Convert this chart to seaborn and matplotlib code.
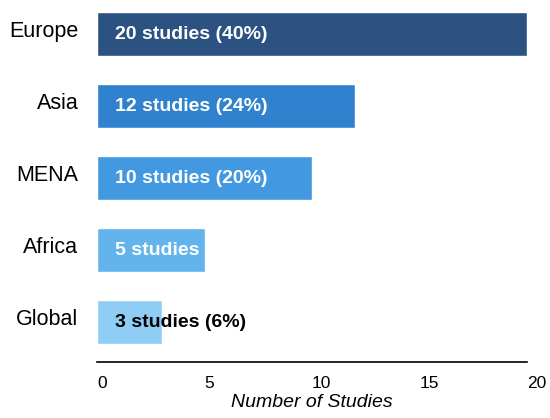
import matplotlib
matplotlib.use("Agg")
import matplotlib.pyplot as plt
import matplotlib.transforms as mtransforms
import seaborn as sns
import pandas as pd

regions = ["Europe", "Asia", "MENA", "Africa", "Global"]
studies = [20, 12, 10, 5, 3]
bar_labels = ["20 studies (40%)", "12 studies (24%)", "10 studies (20%)", "5 studies", "3 studies (6%)"]
colors = ["#2c5282", "#3182ce", "#4299e1", "#63b3ed", "#90cdf4"]
label_colors = ["white", "white", "white", "white", "black"]
xticks = [0, 5, 10, 15, 20]

sns.set_theme(style="white")
plt.rcParams["font.family"] = ["Liberation Sans", "DejaVu Sans"]

df = pd.DataFrame({"region": regions, "studies": studies})

fig = plt.figure(figsize=(5.5, 4.18), dpi=100)
ax = fig.add_axes([97 / 550, (418 - 362) / 418, (527 - 97) / 550, (362 - 5) / 418])

sns.barplot(data=df, y="region", x="studies", hue="region", palette=colors,
            order=regions, hue_order=regions, legend=False, width=0.61,
            orient="h", ax=ax, saturation=1)

for i, (lab, c) in enumerate(zip(bar_labels, label_colors)):
    ax.annotate(lab, xy=(0, i), xytext=(13, -0.5), textcoords="offset points",
                ha="left", va="center", color=c, fontsize=14, fontweight="bold")

ax.set_xlim(0, 20)
ax.set_ylim(4.555, -0.405)
ax.set_xticks(xticks)
ax.set_xticklabels([str(t) for t in xticks], ha="left")
ax.tick_params(axis="x", length=0, pad=10, labelsize=12.5)
ax.tick_params(axis="y", length=0, pad=13.5, labelsize=15.5)
shift = mtransforms.ScaledTranslation(0, 3.5 / 72, fig.dpi_scale_trans)
for lbl in ax.get_yticklabels():
    lbl.set_color("black")
    lbl.set_transform(lbl.get_transform() + shift)
for lbl in ax.get_xticklabels():
    lbl.set_color("black")
ax.set_ylabel("")
ax.set_xlabel("Number of Studies", fontsize=14, fontstyle="italic", labelpad=2, color="black")

for s in ["top", "right", "left"]:
    ax.spines[s].set_visible(False)
ax.spines["bottom"].set_color("black")
ax.spines["bottom"].set_linewidth(1.2)
ax.grid(False)

fig.savefig("out.png", dpi=100)
